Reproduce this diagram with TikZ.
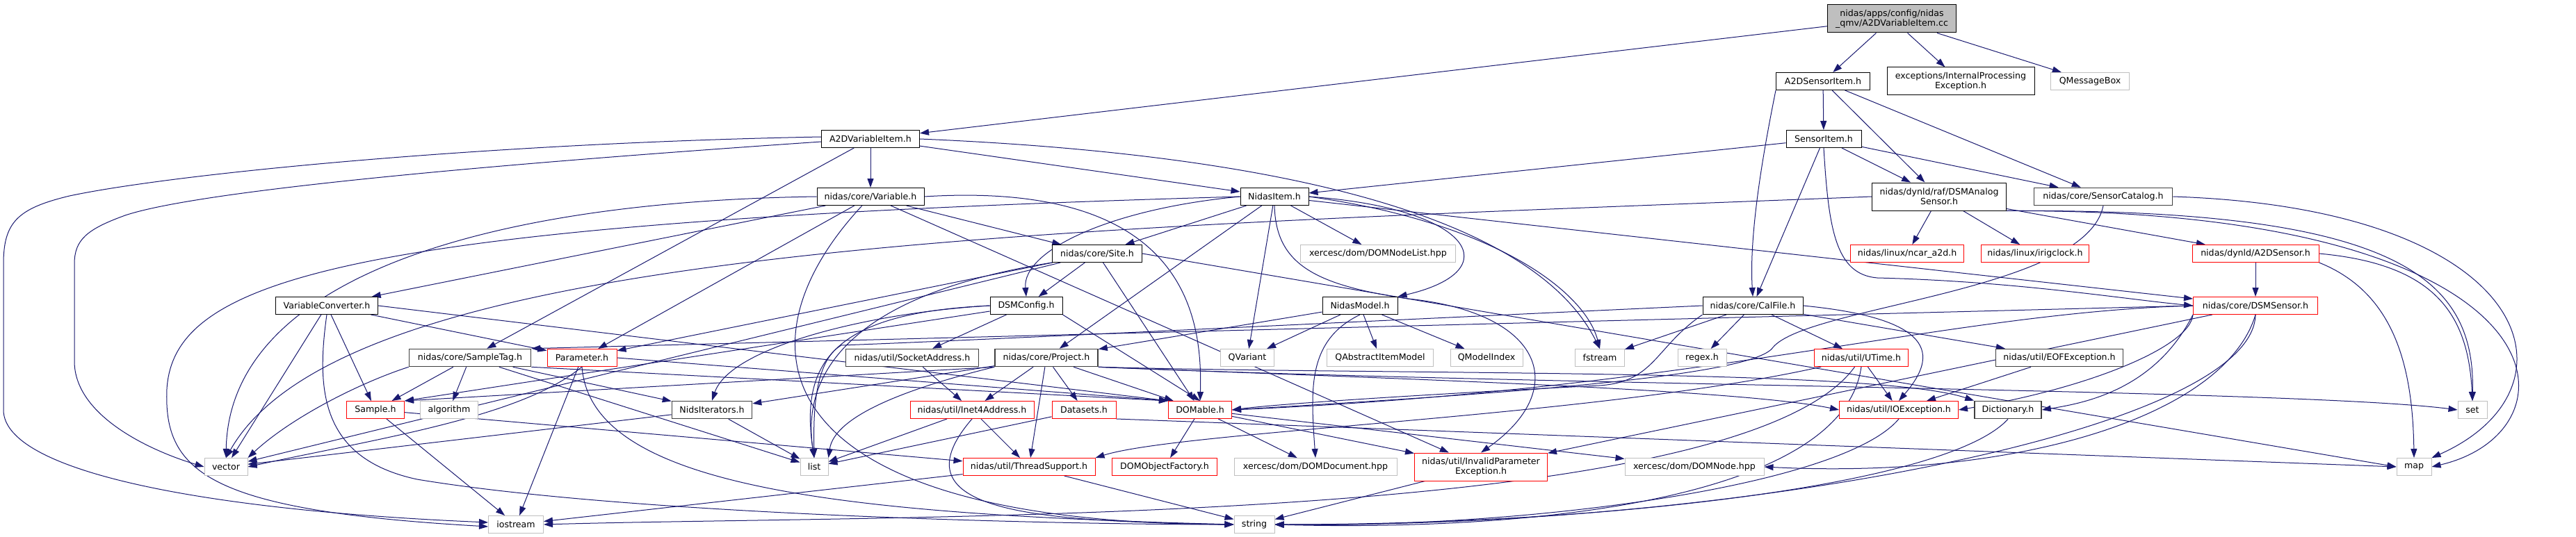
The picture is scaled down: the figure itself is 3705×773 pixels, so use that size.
\documentclass[tikz,border=0pt]{standalone}
\usepackage{fontspec}
\setmainfont{DejaVu Sans}
\usetikzlibrary{arrows.meta,backgrounds}
\definecolor{edgeblue}{HTML}{191970}
\definecolor{boxgray}{HTML}{BFBFBF}
\definecolor{boxred}{HTML}{FF0000}
\definecolor{boxdark}{HTML}{404040}
\tikzset{
  nbox/.style={draw=black,line width=1pt,fill=white,inner xsep=3pt,inner ysep=0pt,minimum height=25pt,align=center,font=\fontsize{12.6}{14}\selectfont},
  dbox/.style={nbox,draw=boxdark,line width=1.6pt},
  gbox/.style={nbox,draw=boxgray},
  rbox/.style={nbox,draw=boxred},
  conn/.style={draw=edgeblue,line width=1pt,-{Triangle[length=13pt,width=9pt]}},
}
\begin{document}
\begin{tikzpicture}[x=1pt,y=-1pt]
\useasboundingbox (0,0) rectangle (3705,773);
% row 0-2
\node[nbox,fill=boxgray,minimum width=185pt,minimum height=40pt] (root) at (2721,27) {nidas/apps/config/nidas\\\_qmv/A2DVariableItem.cc};
\node[nbox,minimum width=135pt] (a2dsi) at (2622,117) {A2DSensorItem.h};
\node[nbox,minimum width=212pt,minimum height=40pt] (ipe) at (2820,117) {exceptions/InternalProcessing\\Exception.h};
\node[gbox,minimum width=113pt] (qmb) at (3006,117) {QMessageBox};
\node[nbox,minimum width=141pt] (a2dvi) at (1252,200) {A2DVariableItem.h};
\node[nbox,minimum width=108pt] (si) at (2623,200) {SensorItem.h};
% row 3
\node[nbox,minimum width=154pt] (var) at (1252,283) {nidas/core/Variable.h};
\node[nbox,minimum width=98pt] (ni) at (1833,283) {NidasItem.h};
\node[nbox,minimum width=193pt,minimum height=40pt] (dsmas) at (2789,283) {nidas/dynld/raf/DSMAnalog\\Sensor.h};
\node[dbox,minimum width=199pt] (sc) at (3025,283) {nidas/core/SensorCatalog.h};
% row 4
\node[nbox,minimum width=129pt] (site) at (1578,365) {nidas/core/Site.h};
\node[gbox,minimum width=223pt] (dnl) at (1982,365) {xercesc/dom/DOMNodeList.hpp};
\node[rbox,minimum width=163pt] (ncar) at (2743,365) {nidas/linux/ncar\_a2d.h};
\node[rbox,minimum width=155pt] (irig) at (2927,365) {nidas/linux/irigclock.h};
\node[rbox,minimum width=182pt] (a2ds) at (3244,365) {nidas/dynld/A2DSensor.h};
% row 5
\node[nbox,minimum width=147pt] (vc) at (470,440) {VariableConverter.h};
\node[nbox,minimum width=104pt] (dsmc) at (1476,440) {DSMConfig.h};
\node[nbox,minimum width=108pt] (nm) at (1956,440) {NidasModel.h};
\node[nbox,minimum width=144pt] (cal) at (2521,440) {nidas/core/CalFile.h};
\node[rbox,minimum width=179pt] (dsms) at (3244,440) {nidas/core/DSMSensor.h};
% row 6
\node[dbox,minimum width=175pt] (st) at (676,515) {nidas/core/SampleTag.h};
\node[rbox,minimum width=100pt] (par) at (837,515) {Parameter.h};
\node[dbox,minimum width=191pt] (sa) at (1312,515) {nidas/util/SocketAddress.h};
\node[dbox,minimum width=148pt] (proj) at (1505,515) {nidas/core/Project.h};
\node[gbox,minimum width=77pt] (qv) at (1794,515) {QVariant};
\node[gbox,minimum width=153pt] (qaim) at (1985,515) {QAbstractItemModel};
\node[gbox,minimum width=104pt] (qmi) at (2138,515) {QModelIndex};
\node[gbox,minimum width=71pt] (fs) at (2301,515) {fstream};
\node[gbox,minimum width=70pt] (rx) at (2448,515) {regex.h};
\node[rbox,minimum width=135pt] (ut) at (2677,515) {nidas/util/UTime.h};
\node[dbox,minimum width=183pt] (eof) at (2962,515) {nidas/util/EOFException.h};
% row 7
\node[rbox,minimum width=83pt] (samp) at (540,590) {Sample.h};
\node[gbox,minimum width=83pt] (alg) at (646,590) {algorithm};
\node[dbox,minimum width=115pt] (nit) at (1024,590) {NidsIterators.h};
\node[rbox,minimum width=178pt] (inet) at (1398,590) {nidas/util/Inet4Address.h};
\node[rbox,minimum width=92pt] (ds) at (1559,590) {Datasets.h};
\node[rbox,minimum width=91pt] (dom) at (1726,590) {DOMable.h};
\node[rbox,minimum width=171pt] (ioe) at (2731,590) {nidas/util/IOException.h};
\node[dbox,minimum width=96pt] (dict) at (2888,590) {Dictionary.h};
\node[gbox,minimum width=42pt] (set) at (3556,590) {set};
% row 8
\node[gbox,minimum width=62pt] (vec) at (325,672) {vector};
\node[gbox,minimum width=40pt] (lst) at (1171,672) {list};
\node[rbox,minimum width=190pt] (ts) at (1480,672) {nidas/util/ThreadSupport.h};
\node[rbox,minimum width=151pt] (dof) at (1675,672) {DOMObjectFactory.h};
\node[gbox,minimum width=234pt] (ddoc) at (1892,672) {xercesc/dom/DOMDocument.hpp};
\node[rbox,minimum width=191pt,minimum height=40pt] (ipx) at (2130,672) {nidas/util/InvalidParameter\\Exception.h};
\node[gbox,minimum width=200pt] (dnode) at (2437,672) {xercesc/dom/DOMNode.hpp};
\node[gbox,minimum width=50pt] (map) at (3472,672) {map};
% row 9
\node[gbox,minimum width=79pt] (ios) at (742,755) {iostream};
\node[gbox,minimum width=58pt] (str) at (1804,755) {string};

\begin{scope}[on background layer]
\fill[white] (0,0) rectangle (3705,773);
% root
\draw[conn] (root) -- (a2dvi);
\draw[conn] (root) -- (a2dsi);
\draw[conn] (root) -- (ipe);
\draw[conn] (root) -- (qmb);
% A2DSensorItem
\draw[conn] (a2dsi) -- (si);
\draw[conn] (a2dsi) -- (dsmas);
\draw[conn] (a2dsi) -- (sc);
\draw[conn] (a2dsi.south west) .. controls (2540,200) and (2515,330) .. (cal.north);
% SensorItem
\draw[conn] (si) -- (ni);
\draw[conn] (si) -- (dsmas);
\draw[conn] (si) -- (sc);
\draw[conn] (si) -- (cal);
\draw[conn] (si.south) .. controls (2630,330) and (2640,395) .. (2700,400) .. controls (2900,405) and (3050,430) .. (dsms.west);
% A2DVariableItem
\draw[conn] (a2dvi) -- (var);
\draw[conn] (a2dvi) -- (ni);
\draw[conn] ([yshift=3pt]a2dvi.west) .. controls (700,206) and (250,250) .. (100,282) .. controls (25,300) and (5,320) .. (5,380) -- (5,590) .. controls (5,680) and (300,735) .. ([yshift=3pt]ios.west);
\draw[conn] ([yshift=-4pt]a2dvi.west) .. controls (800,230) and (300,270) .. (180,310) .. controls (125,330) and (107,345) .. (107,380) -- (107,520) .. controls (107,600) and (220,650) .. (vec.west);
\draw[conn] (a2dvi) -- (st);
\draw[conn] (a2dvi.east) .. controls (1800,220) and (2200,300) .. (fs.north);
% Variable
\draw[conn] (var) -- (vc);
\draw[conn] (var) -- (site);
\draw[conn] (var) -- (par);
\draw[conn] (var.east) .. controls (1700,260) and (1730,450) .. (dom.north);
\draw[conn] (var.west) .. controls (700,290) and (330,400) .. (vec.north);
\draw[conn] (var) .. controls (1050,500) and (1100,752) .. (str.west);
\draw[conn] (var) -- (ipx);
% NidasItem
\draw[conn] (ni) -- (site);
\draw[conn] (ni.west) .. controls (1600,300) and (1470,360) .. (dsmc.north);
\draw[conn] (ni) -- (proj);
\draw[conn] (ni) -- (qv);
\draw[conn] (ni) -- (dnl);
\draw[conn] (ni.east) .. controls (2120,300) and (2170,390) .. (nm.north east);
\draw[conn] (ni.east) .. controls (2150,320) and (2280,420) .. (fs.north);
\draw[conn] (ni) -- (dsms);
\draw[conn] (ni.west) .. controls (500,320) and (250,400) .. (240,560) .. controls (235,680) and (300,735) .. ([yshift=-3pt]ios.west);
\draw[conn] (ni.south) .. controls (1835,380) and (1890,410) .. (2025,430) .. controls (2220,450) and (2260,560) .. (ipx.north);
% Site
\draw[conn] (site) -- (dsmc);
\draw[conn] (site) -- (par);
\draw[conn] (site) -- (dom);
\draw[conn] (site.south west) .. controls (1250,420) and (1150,520) .. (lst.north);
\draw[conn] (site.east) -- (map.west);
\draw[conn] (site) -- (vec);
% DSMConfig
\draw[conn] (dsmc) -- (sa);
\draw[conn] (dsmc.south east) -- (dom.north);
\draw[conn] (dsmc.west) .. controls (1200,450) and (1150,520) .. (lst.north);
\draw[conn] (dsmc) -- (samp.north east);
\draw[conn] (dsmc.west) .. controls (1250,450) and (1050,500) .. (nit.north);
% Project
\draw[conn] (proj) -- (nit);
\draw[conn] (proj) -- (inet);
\draw[conn] (proj) -- (ds);
\draw[conn] (proj) -- (dom);
\draw[conn] (proj) -- (ts);
\draw[conn] (proj.south west) .. controls (1300,560) and (1200,600) .. (lst.north east);
\draw[conn] (proj.south west) -- (samp.north east);
\draw[conn] (proj.south east) .. controls (2000,540) and (2700,530) .. (dict.north west);
\draw[conn] (proj.south east) .. controls (2200,555) and (3300,560) .. (set.west);
\draw[conn] (proj.south east) .. controls (2000,545) and (2500,560) .. (ioe.west);
% SocketAddress, Inet4Address, Datasets
\draw[conn] (sa) -- (inet);
\draw[conn] (inet) -- (lst);
\draw[conn] (inet) -- (ts);
\draw[conn] (inet.south) .. controls (1280,740) and (1500,750) .. (str.west);
\draw[conn] (ds) -- (lst);
\draw[conn] (ds.south east) -- (map.west);
% DOMable
\draw[conn] (dom) -- (dof);
\draw[conn] (dom) -- (ddoc);
\draw[conn] (dom) -- (ipx);
\draw[conn] (dom) -- (dnode);
% NidasModel
\draw[conn] (nm) -- (qv);
\draw[conn] (nm) -- (qaim);
\draw[conn] (nm) -- (qmi);
\draw[conn] (nm.south) .. controls (1880,490) and (1885,560) .. (ddoc.north);
\draw[conn] (nm) -- (proj);
% CalFile
\draw[conn] (cal) -- (fs);
\draw[conn] (cal) -- (rx);
\draw[conn] (cal) -- (ut);
\draw[conn] (cal.south west) .. controls (2380,500) and (2380,550) .. (2300,555) .. controls (2100,565) and (1850,580) .. (dom.east);
\draw[conn] (cal) -- (eof);
\draw[conn] (cal.east) .. controls (2800,460) and (2780,520) .. (ioe.north);
\draw[conn] (cal.west) .. controls (1800,470) and (1400,490) .. (1210,497) .. controls (1170,520) and (1170,600) .. (lst.north);
% UTime
\draw[conn] (ut) -- (ioe);
\draw[conn] (ut.south) .. controls (2650,720) and (2200,765) .. (str.east);
\draw[conn] (ut) .. controls (2500,760) and (1300,740) .. (ios.east);
\draw[conn] (ut) .. controls (2300,600) and (1700,620) .. (ts.north east);
% exceptions and utilities
\draw[conn] (ioe.south) .. controls (2650,700) and (2200,760) .. (str.east);
\draw[conn] (eof) -- (ioe);
\draw[conn] (dict.south) .. controls (2800,700) and (2300,755) .. (str.east);
\draw[conn] (ipx) -- (str);
\draw[conn] (ts) -- (str);
\draw[conn] (ts) -- (ios);
\draw[conn] (samp) -- (ts);
\draw[conn] (samp) -- (ios);
% SampleTag
\draw[conn] (st) -- (samp);
\draw[conn] (st.south west) .. controls (520,550) and (420,600) .. (vec.north east);
\draw[conn] (st) -- (alg);
\draw[conn] (st) -- (lst);
\draw[conn] (st) -- (nit);
\draw[conn] (st.south east) -- (dom.north west);
% Parameter
\draw[conn] (par.south) .. controls (750,600) and (550,630) .. (vec.east);
\draw[conn] (par) -- (ios);
\draw[conn] (par.south) .. controls (850,700) and (1200,740) .. (str.west);
\draw[conn] (par.east) -- (dom.north west);
% VariableConverter
\draw[conn] (vc) -- (samp);
\draw[conn] (vc) -- (par);
\draw[conn] (vc) -- (vec);
\draw[conn] (vc.east) -- (dom.north west);
\draw[conn] (vc.south) .. controls (455,560) and (460,660) .. (600,690) .. controls (900,740) and (1500,755) .. (str.west);
% NidsIterators
\draw[conn] (nit) -- (vec);
\draw[conn] (nit) -- (lst);
% DSMSensor
\draw[conn] (dsms.south west) .. controls (3100,560) and (3000,580) .. (dict.east);
\draw[conn] (dsms.south west) .. controls (3150,500) and (3000,560) .. (ioe.east);
\draw[conn] (dsms.west) .. controls (2800,450) and (2450,560) .. (dom.east);
\draw[conn] (dsms.west) -- (st.north east);
\draw[conn] (dsms.south) .. controls (3240,620) and (2500,760) .. (str.east);
\draw[conn] (dsms) -- (ipx);
\draw[conn] (dsms.south) .. controls (3200,600) and (2900,690) .. (dnode.east);
% A2DSensor
\draw[conn] (a2ds) -- (dsms);
\draw[conn] (a2ds.south east) .. controls (3440,420) and (3470,520) .. (map.north);
\draw[conn] (a2ds.east) .. controls (3500,380) and (3550,450) .. (set.north);
% DSMAnalogSensor
\draw[conn] (dsmas) -- (ncar);
\draw[conn] (dsmas) -- (irig);
\draw[conn] (dsmas) -- (a2ds);
\draw[conn] (dsmas.south east) .. controls (3700,300) and (3720,620) .. (map.east);
\draw[conn] (dsmas.south east) .. controls (3450,300) and (3560,400) .. (set.north);
\draw[conn] (dsmas.west) .. controls (1500,330) and (500,350) .. (vec.north);
% SensorCatalog
\draw[conn] (sc.east) .. controls (3650,300) and (3720,560) .. (map.north east);
\draw[conn] (sc.south) .. controls (3000,420) and (2600,440) .. (2550,500) .. controls (2520,545) and (2100,570) .. (dom.east);
\end{scope}
\end{tikzpicture}
\end{document}
